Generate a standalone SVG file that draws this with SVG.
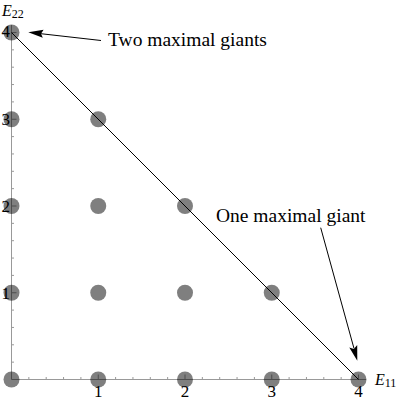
<svg xmlns="http://www.w3.org/2000/svg" width="400" height="402" viewBox="0 0 400 402">
<style>
.axis{stroke:#999;stroke-width:1;fill:none}
.tick{stroke:#999;stroke-width:1}
.dot{fill:#000;fill-opacity:0.5}
.conn{stroke:#000;stroke-width:1;fill:none}
.head{fill:#000}
</style>
<rect width="400" height="402" fill="#fff"/>
<g id="axes">
<line class="axis" x1="11.5" y1="379.5" x2="366" y2="379.5"/>
<line class="axis" x1="11.5" y1="379.5" x2="11.5" y2="25"/>
<g class="tick">
<line x1="28.85" y1="379.5" x2="28.85" y2="377"/>
<line x1="46.2" y1="379.5" x2="46.2" y2="377"/>
<line x1="63.55" y1="379.5" x2="63.55" y2="377"/>
<line x1="80.9" y1="379.5" x2="80.9" y2="377"/>
<line x1="98.25" y1="379.5" x2="98.25" y2="374.5"/>
<line x1="115.6" y1="379.5" x2="115.6" y2="377"/>
<line x1="132.95" y1="379.5" x2="132.95" y2="377"/>
<line x1="150.3" y1="379.5" x2="150.3" y2="377"/>
<line x1="167.65" y1="379.5" x2="167.65" y2="377"/>
<line x1="185" y1="379.5" x2="185" y2="374.5"/>
<line x1="202.35" y1="379.5" x2="202.35" y2="377"/>
<line x1="219.7" y1="379.5" x2="219.7" y2="377"/>
<line x1="237.05" y1="379.5" x2="237.05" y2="377"/>
<line x1="254.4" y1="379.5" x2="254.4" y2="377"/>
<line x1="271.75" y1="379.5" x2="271.75" y2="374.5"/>
<line x1="289.1" y1="379.5" x2="289.1" y2="377"/>
<line x1="306.45" y1="379.5" x2="306.45" y2="377"/>
<line x1="323.8" y1="379.5" x2="323.8" y2="377"/>
<line x1="341.15" y1="379.5" x2="341.15" y2="377"/>
<line x1="358.5" y1="379.5" x2="358.5" y2="374.5"/>
<line x1="11.5" y1="362.15" x2="14" y2="362.15"/>
<line x1="11.5" y1="344.8" x2="14" y2="344.8"/>
<line x1="11.5" y1="327.45" x2="14" y2="327.45"/>
<line x1="11.5" y1="310.1" x2="14" y2="310.1"/>
<line x1="11.5" y1="292.75" x2="16.5" y2="292.75"/>
<line x1="11.5" y1="275.4" x2="14" y2="275.4"/>
<line x1="11.5" y1="258.05" x2="14" y2="258.05"/>
<line x1="11.5" y1="240.7" x2="14" y2="240.7"/>
<line x1="11.5" y1="223.35" x2="14" y2="223.35"/>
<line x1="11.5" y1="206" x2="16.5" y2="206"/>
<line x1="11.5" y1="188.65" x2="14" y2="188.65"/>
<line x1="11.5" y1="171.3" x2="14" y2="171.3"/>
<line x1="11.5" y1="153.95" x2="14" y2="153.95"/>
<line x1="11.5" y1="136.6" x2="14" y2="136.6"/>
<line x1="11.5" y1="119.25" x2="16.5" y2="119.25"/>
<line x1="11.5" y1="101.9" x2="14" y2="101.9"/>
<line x1="11.5" y1="84.55" x2="14" y2="84.55"/>
<line x1="11.5" y1="67.2" x2="14" y2="67.2"/>
<line x1="11.5" y1="49.85" x2="14" y2="49.85"/>
<line x1="11.5" y1="32.5" x2="16.5" y2="32.5"/>
</g>
<g font-family="Liberation Serif, DejaVu Serif, serif" font-size="17" fill="#000" text-anchor="middle">
<text x="98.25" y="397">1</text>
<text x="185" y="397">2</text>
<text x="271.75" y="397">3</text>
<text x="358.5" y="397">4</text>
</g>
<g font-family="Liberation Serif, DejaVu Serif, serif" font-size="17" fill="#000" text-anchor="end">
<text x="10" y="298.5">1</text>
<text x="10" y="211.7">2</text>
<text x="10" y="125">3</text>
<text x="10" y="36.5">4</text>
</g>
<g font-family="Liberation Serif, DejaVu Serif, serif" font-size="16" font-style="italic" fill="#000">
<text x="2" y="16">E<tspan font-style="normal" font-size="12" dy="2">22</tspan></text>
<text x="375" y="385">E<tspan font-style="normal" font-size="12" dy="2">11</tspan></text>
</g>
</g>
<g id="connectors">
<line id="diagonal" class="conn" x1="11.5" y1="32.5" x2="358.5" y2="379.5"/>
<line class="conn" x1="101" y1="40.5" x2="40" y2="33.6"/>
<polygon class="head" points="28.3,32.3 43.6,29.8 41,33.8 42.8,37.8"/>
<line class="conn" x1="320.7" y1="227.7" x2="354" y2="348.5"/>
<polygon class="head" points="357.3,360.7 349.3,347.4 353.8,349 357.2,345"/>
</g>
<g id="dots">
<g id="n00"><circle class="dot" cx="11.5" cy="379.5" r="8"/></g>
<g id="n01"><circle class="dot" cx="11.5" cy="292.75" r="8"/></g>
<g id="n02"><circle class="dot" cx="11.5" cy="206" r="8"/></g>
<g id="n03"><circle class="dot" cx="11.5" cy="119.25" r="8"/></g>
<g id="n04"><circle class="dot" cx="11.5" cy="32.5" r="8"/></g>
<g id="n10"><circle class="dot" cx="98.25" cy="379.5" r="8"/></g>
<g id="n11"><circle class="dot" cx="98.25" cy="292.75" r="8"/></g>
<g id="n12"><circle class="dot" cx="98.25" cy="206" r="8"/></g>
<g id="n13"><circle class="dot" cx="98.25" cy="119.25" r="8"/></g>
<g id="n20"><circle class="dot" cx="185" cy="379.5" r="8"/></g>
<g id="n21"><circle class="dot" cx="185" cy="292.75" r="8"/></g>
<g id="n22"><circle class="dot" cx="185" cy="206" r="8"/></g>
<g id="n30"><circle class="dot" cx="271.75" cy="379.5" r="8"/></g>
<g id="n31"><circle class="dot" cx="271.75" cy="292.75" r="8"/></g>
<g id="n40"><circle class="dot" cx="358.5" cy="379.5" r="8"/></g>
</g>
<g id="labels" font-family="Liberation Serif, DejaVu Serif, serif" font-size="19.5" fill="#000">
<text x="108" y="45.7">Two maximal giants</text>
<text x="216" y="221.5">One maximal giant</text>
</g>
</svg>
